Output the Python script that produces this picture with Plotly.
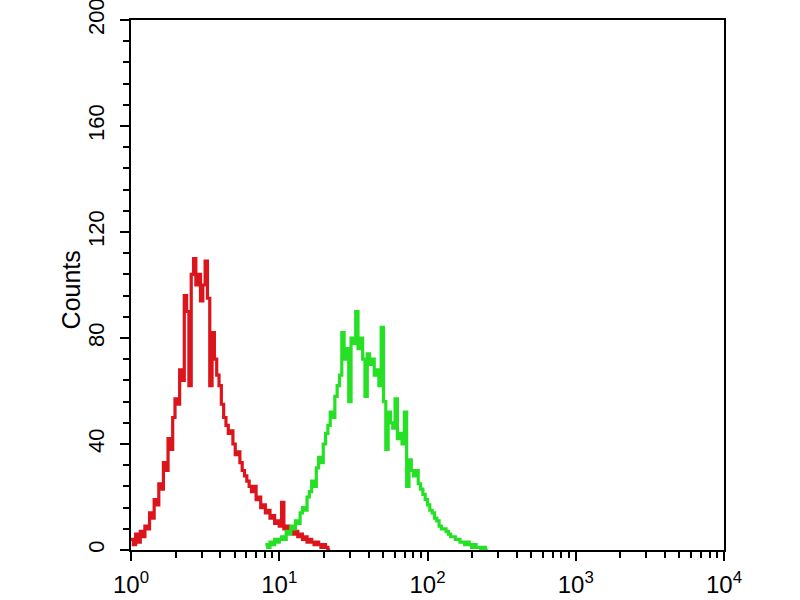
import plotly.graph_objects as go

# Histogram bins: 64 bins per decade on a log axis, bin index -> channel value
BINS_PER_DECADE = 64

# Red (control) histogram counts, starting at bin 0
red_start_bin = 0
red_counts = [4, 2, 6, 3, 7, 5, 9, 8, 14, 12, 19, 17, 25, 23, 33, 30, 42, 38, 50, 57,
              55, 68, 64, 96, 90, 62, 104, 110, 100, 104, 94, 100, 109, 95, 62, 82, 72, 66, 62, 55,
              50, 47, 44, 45, 40, 36, 37, 33, 30, 28, 26, 24, 22, 24, 19, 20, 16, 17, 14, 15,
              12, 13, 10, 11, 9, 18, 8, 9, 7, 8, 6, 7, 5, 6, 4, 5, 3, 4, 3, 2,
              3, 2, 1, 2, 1, 0, 0]

# Green (antibody) histogram counts, starting at bin 58
green_start_bin = 58
green_counts = [2, 1, 3, 2, 4, 3, 4, 5, 4, 7, 6, 9, 8, 11, 10, 14, 16, 15, 20, 22,
                26, 24, 31, 35, 33, 40, 44, 47, 52, 50, 58, 62, 66, 82, 72, 76, 56, 80, 78, 90,
                76, 80, 72, 58, 74, 70, 72, 66, 68, 62, 84, 56, 38, 52, 48, 46, 57, 42, 44, 40,
                52, 24, 34, 30, 28, 30, 25, 23, 21, 19, 17, 15, 14, 12, 11, 9, 8, 8, 7, 6,
                5, 5, 4, 4, 3, 3, 2, 3, 2, 1, 2, 1, 1, 0, 1, 0, 0]

y_tick_vals = [0, 40, 80, 120, 160, 200]
x_tick_vals = [1, 10, 100, 1000, 10000]
x_tick_text = ["10<sup>0</sup>", "10<sup>1</sup>", "10<sup>2</sup>", "10<sup>3</sup>", "10<sup>4</sup>"]
y_title = "Counts"


def bin_x(start, n):
    return [10 ** ((start + i) / BINS_PER_DECADE) for i in range(n)]


fig = go.Figure()
fig.add_trace(go.Scatter(x=bin_x(red_start_bin, len(red_counts)), y=red_counts,
                         mode="lines", line=dict(color="#dc141c", width=3.2, shape="hv"),
                         showlegend=False))
fig.add_trace(go.Scatter(x=bin_x(green_start_bin, len(green_counts)), y=green_counts,
                         mode="lines", line=dict(color="#26e026", width=3.2, shape="hv"),
                         showlegend=False))

font = dict(family="Liberation Sans, Arial, sans-serif", size=22, color="black")

fig.add_annotation(text=y_title, xref="paper", yref="paper", x=-0.101, y=0.49,
                   xanchor="center", yanchor="middle", textangle=-90, showarrow=False,
                   font=dict(size=25))

fig.update_layout(
    width=800, height=600,
    margin=dict(l=131, r=76, t=20, b=50),
    paper_bgcolor="white", plot_bgcolor="white",
    font=font,
    xaxis=dict(type="log", range=[0, 4], tickvals=x_tick_vals, ticktext=x_tick_text,
               tickfont=dict(size=24), ticklabeloverflow="allow",
               ticks="outside", ticklen=9, tickwidth=2, tickcolor="black",
               showline=True, linewidth=2, linecolor="black", mirror=True, showgrid=False,
               zeroline=False, automargin=False, ticklabelstandoff=3,
               minor=dict(ticks="outside", ticklen=6, tickwidth=2, tickcolor="black",
                          dtick="D1", showgrid=False)),
    yaxis=dict(range=[0, 200], tickvals=y_tick_vals, tickangle=-90, ticks="outside",
               tickfont=dict(size=22), ticklabeloverflow="allow",
               ticklen=9, tickwidth=2, tickcolor="black", showline=True, linewidth=2,
               linecolor="black", mirror=True, showgrid=False, zeroline=False,
               automargin=False, ticklabelstandoff=7,
               minor=dict(ticks="outside", ticklen=6, tickwidth=2, tickcolor="black",
                          dtick=8, showgrid=False)),
)

fig.write_html("out.html", config={"displayModeBar": False},
               post_script="document.body.style.margin='0';")
